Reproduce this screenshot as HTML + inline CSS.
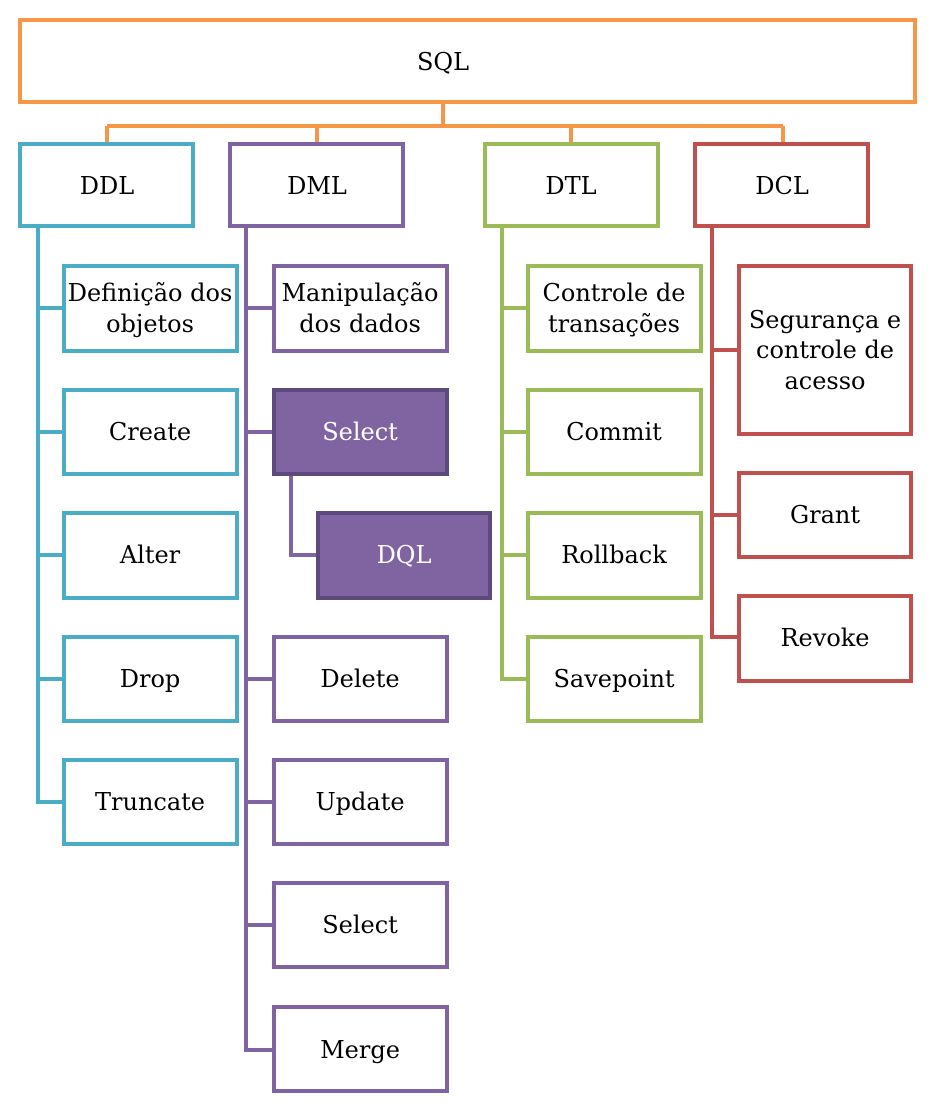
<!DOCTYPE html>
<html><head><meta charset="utf-8"><style>
html,body{margin:0;padding:0;background:#fff;}
svg{display:block;}
text{font-family:"DejaVu Serif","Liberation Serif",serif;font-size:24px;text-anchor:middle;dominant-baseline:central;fill:#000;}
</style></head><body>
<svg width="936" height="1110" xmlns="http://www.w3.org/2000/svg">
<g fill="none" stroke-width="4">
<g stroke="#f79646">
<path d="M443 104 V126 M107 126 H783 M107 126 V142 M317 126 V142 M571 126 V142 M783 126 V142"/>
</g>
<g stroke="#4bacc6">
<path d="M38 228 V802 H62 M38 308 H62 M38 432 H62 M38 555 H62 M38 679 H62"/>
</g>
<g stroke="#8064a2">
<path d="M246 228 V1050 H272 M246 308 H272 M246 432 H272 M246 679 H272 M246 802 H272 M246 925 H272 M291 476 V555 H316"/>
</g>
<g stroke="#9bbb59">
<path d="M502 228 V679 H526 M502 308 H526 M502 432 H526 M502 555 H526"/>
</g>
<g stroke="#c0504d">
<path d="M712 228 V637 H737 M712 350 H737 M712 515 H737"/>
</g>
<rect x="20" y="20" width="895" height="82" stroke="#f79646" fill="#fff"/>
<rect x="20" y="144" width="173" height="82" stroke="#4bacc6" fill="#fff"/>
<rect x="230" y="144" width="173" height="82" stroke="#8064a2" fill="#fff"/>
<rect x="485" y="144" width="173" height="82" stroke="#9bbb59" fill="#fff"/>
<rect x="695" y="144" width="173" height="82" stroke="#c0504d" fill="#fff"/>
<g stroke="#4bacc6" fill="#fff">
<rect x="64" y="266" width="173" height="85"/>
<rect x="64" y="390" width="173" height="84"/>
<rect x="64" y="513" width="173" height="85"/>
<rect x="64" y="637" width="173" height="84"/>
<rect x="64" y="760" width="173" height="84"/>
</g>
<g stroke="#8064a2" fill="#fff">
<rect x="274" y="266" width="173" height="85"/>
<rect x="274" y="637" width="173" height="84"/>
<rect x="274" y="760" width="173" height="84"/>
<rect x="274" y="883" width="173" height="84"/>
<rect x="274" y="1007" width="173" height="84"/>
</g>
<g stroke="#5c4a7d" fill="#8064a2">
<rect x="274" y="390" width="173" height="84"/>
<rect x="318" y="513" width="172" height="85"/>
</g>
<g stroke="#9bbb59" fill="#fff">
<rect x="528" y="266" width="173" height="85"/>
<rect x="528" y="390" width="173" height="84"/>
<rect x="528" y="513" width="173" height="85"/>
<rect x="528" y="637" width="173" height="84"/>
</g>
<g stroke="#c0504d" fill="#fff">
<rect x="739" y="266" width="172" height="168"/>
<rect x="739" y="473" width="172" height="84"/>
<rect x="739" y="596" width="172" height="85"/>
</g>
</g>
<text x="443" y="62">SQL</text>
<text x="107" y="186">DDL</text>
<text x="317" y="186">DML</text>
<text x="571" y="186">DTL</text>
<text x="782" y="186">DCL</text>
<text x="150" y="293">Definição dos</text>
<text x="150" y="324">objetos</text>
<text x="150" y="432">Create</text>
<text x="150" y="555">Alter</text>
<text x="150" y="679">Drop</text>
<text x="150" y="802">Truncate</text>
<text x="360" y="293">Manipulação</text>
<text x="360" y="324">dos dados</text>
<text x="360" y="432" style="fill:#fff">Select</text>
<text x="404" y="555" style="fill:#fff">DQL</text>
<text x="360" y="679">Delete</text>
<text x="360" y="802">Update</text>
<text x="360" y="925">Select</text>
<text x="360" y="1050">Merge</text>
<text x="614" y="293">Controle de</text>
<text x="614" y="324">transações</text>
<text x="614" y="432">Commit</text>
<text x="614" y="555">Rollback</text>
<text x="614" y="679">Savepoint</text>
<text x="825" y="320">Segurança e</text>
<text x="825" y="350">controle de</text>
<text x="825" y="381">acesso</text>
<text x="825" y="515">Grant</text>
<text x="825" y="638">Revoke</text>
</svg>
</body></html>
